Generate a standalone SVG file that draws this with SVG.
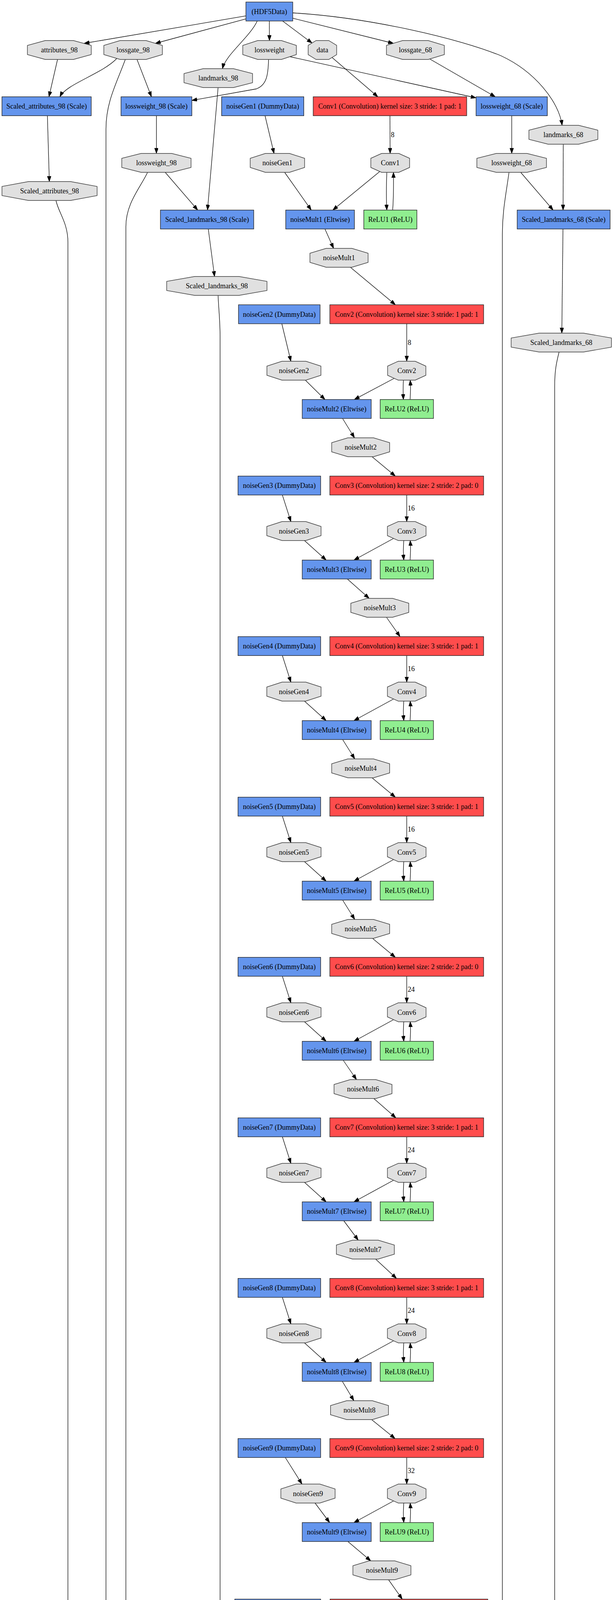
<svg xmlns="http://www.w3.org/2000/svg" width="1573" height="7101" viewBox="0 0 1573 7101">
<style>
rect,polygon,ellipse{stroke:#262626;stroke-width:1.4}
.bg{fill:#fff;stroke:none}
.b{fill:#6495ed}.r{fill:#ff4c4c}.g{fill:#90ee90}.p{fill:#cc33ff}
.o{fill:#e0e0e0;stroke:#3a3a3a}
ellipse{fill:#fff}
text{font-family:"Liberation Serif","Times New Roman",serif;font-size:18px;fill:#000;text-anchor:middle}
text.l{text-anchor:start}
#edges path{fill:none;stroke:#000;stroke-width:1.3;marker-end:url(#ah)}
</style>
<defs>
<marker id="ah" markerUnits="userSpaceOnUse" markerWidth="14" markerHeight="10" refX="13.5" refY="4.75" orient="auto"><path d="M0,0L13.5,4.75L0,9.5z" fill="#000" stroke="#000" stroke-width="1"/></marker>
</defs>
<rect class="bg" x="0" y="0" width="1573" height="7101"/>

<g id="edges">
<path d="M630,40.7L215.6,111"/>
<path d="M630,48.3L398,111"/>
<path d="M659,53.75C640,95 578,140 570,175.75"/>
<path d="M690,53.75L690.3,103.75"/>
<path d="M724,53.75L799.4,110.2"/>
<path d="M750,46.7L1008,111"/>
<path d="M750,33C950,45 1180,100 1284,143C1370,183 1432,260 1440,320.75"/>
<path d="M147.4,152.25L125.4,247.75"/>
<path d="M299,150C260,190 170,215 153.5,247.75"/>
<path d="M351,152.25L388,247.75"/>
<path d="M321,152.25C300,210 271.5,260 271.5,330L271.5,6470C271.5,6510 298,6540 325,6558.25"/>
<path d="M688,152.25C687,195 682,218 657,227.5L491.5,257"/>
<path d="M742.2,145L1219.6,250.5"/>
<path d="M850.5,147L968,247.75"/>
<path d="M1101,151L1268.8,247.75"/>
<path d="M558.7,224.25L531.6,537.75"/>
<path d="M1443,369.25L1442.5,537.75"/>
<path d="M121.4,296.25L126.4,464.75"/>
<path d="M400.7,296.25L400.7,392.75"/>
<path d="M679,296.25L702,392.75"/>
<path d="M999,296.25L999.5,392.75"/>
<path d="M1311,296.25L1311,392.75"/>
<path d="M423.3,441.25L506.5,537.75"/>
<path d="M378,441.25C360,480 322.5,520 322.5,580L322.5,6285C322.5,6318 380,6328 453,6340L623,6370.5"/>
<path d="M729.2,441.25L797.4,537.75"/>
<path d="M973,439L852.6,537.75"/>
<path d="M991,441.25C989.5,480 989.5,510 991,537.75"/>
<path d="M1006,537.75C1008,510 1008.5,480 1008,441.25"/>
<path d="M1334,441.25L1417,537.75"/>
<path d="M1304,441.25C1296,500 1287,540 1287,600L1287,6290C1287,6320 1280,6340 1272,6362.25"/>
<path d="M143.4,513.25C150,545 174,570 174,620L174,6680C174,6720 210,6745 253,6756"/>
<path d="M533.6,586.25L549.6,707.75"/>
<path d="M558.7,756.25C560,790 563.8,820 563.8,860L563.8,5300C563.8,5420 610,5510 680,5670C730,5780 790,5890 860,5978C930,6060 1000,6090 1040,6112C1090,6140 1095.4,6180 1095.4,6240L1095.4,6470C1095.4,6510 1075,6535 1050,6558.25"/>
<path d="M1442.3,586.25L1439.3,852.75"/>
<path d="M1432.3,901.25C1425,930 1421,950 1421,990L1421,6470C1421,6510 1400,6535 1362.4,6558.25"/>
<path d="M832.5,586.25L854.6,635.75"/>
<path d="M897.7,684.25L1013,780.25"/>
<path d="M722,828.75L745.2,924.75"/>
<path d="M1042,828.75L1042,924.75"/>
<path d="M782.3,973.25L832.5,1022.75"/>
<path d="M1010,968.5L907.7,1022.75"/>
<path d="M1033.5,973.25C1032.5,990 1032.5,1005 1033.5,1022.75"/>
<path d="M1050.5,1022.75C1052,1005 1052,990 1051,973.25"/>
<path d="M877.6,1071.25L908.2,1120.75"/>
<path d="M953.2,1169.25L1012.8,1218.75"/>
<path d="M723.4,1267.25L745.2,1335.25"/>
<path d="M1042,1267.25L1042,1335.25"/>
<path d="M780,1383.75L835.6,1433.75"/>
<path d="M1009,1378L906.8,1433.75"/>
<path d="M1034.5,1383.75C1033,1401 1033,1417 1034.5,1433.75"/>
<path d="M1050.5,1433.75C1052,1417 1052,1401 1051,1383.75"/>
<path d="M889.9,1482.25L945.7,1531.75"/>
<path d="M990.1,1580.25L1024.9,1629.75"/>
<path d="M723.4,1678.25L745.2,1746.25"/>
<path d="M1042,1678.25L1042,1746.25"/>
<path d="M780,1794.75L835.6,1844.75"/>
<path d="M1009,1789L906.8,1844.75"/>
<path d="M1034.5,1794.75C1033,1812 1033,1828 1034.5,1844.75"/>
<path d="M1050.5,1844.75C1052,1828 1052,1812 1051,1794.75"/>
<path d="M877.8,1893.25L908.8,1942.75"/>
<path d="M953.2,1991.25L1012.8,2040.75"/>
<path d="M723.4,2089.25L745.2,2157.25"/>
<path d="M1042,2089.25L1042,2157.25"/>
<path d="M780,2205.75L835.6,2255.75"/>
<path d="M1009,2200L906.8,2255.75"/>
<path d="M1034.5,2205.75C1033,2223 1033,2239 1034.5,2255.75"/>
<path d="M1050.5,2255.75C1052,2239 1052,2223 1051,2205.75"/>
<path d="M877.8,2304.25L908.8,2353.75"/>
<path d="M953.2,2401.25L1012.8,2450.75"/>
<path d="M723.4,2499.25L745.2,2567.25"/>
<path d="M1042,2499.25L1042,2567.25"/>
<path d="M780,2615.75L835.6,2665.75"/>
<path d="M1009,2610L906.8,2665.75"/>
<path d="M1034.5,2615.75C1033,2633 1033,2649 1034.5,2665.75"/>
<path d="M1050.5,2665.75C1052,2649 1052,2633 1051,2615.75"/>
<path d="M879.3,2714.25L913.3,2763.75"/>
<path d="M957.7,2812.25L1014.3,2861.75"/>
<path d="M723.4,2910.25L745.2,2978.25"/>
<path d="M1042,2910.25L1042,2978.25"/>
<path d="M780,3026.75L835.6,3076.75"/>
<path d="M1009,3021L906.8,3076.75"/>
<path d="M1034.5,3026.75C1033,3044 1033,3060 1034.5,3076.75"/>
<path d="M1050.5,3076.75C1052,3060 1052,3044 1051,3026.75"/>
<path d="M880.8,3125.25L917.8,3174.75"/>
<path d="M962.2,3223.25L1015.8,3272.75"/>
<path d="M723.4,3321.25L745.2,3389.25"/>
<path d="M1042,3321.25L1042,3389.25"/>
<path d="M780,3437.75L835.6,3487.75"/>
<path d="M1009,3432L906.8,3487.75"/>
<path d="M1034.5,3437.75C1033,3455 1033,3471 1034.5,3487.75"/>
<path d="M1050.5,3487.75C1052,3471 1052,3455 1051,3437.75"/>
<path d="M877,3536.25L906.6,3585.75"/>
<path d="M950.9,3633.25L1012.1,3682.75"/>
<path d="M730.9,3731.25L773.7,3799.25"/>
<path d="M1042,3731.25L1042,3799.25"/>
<path d="M807.1,3847.75L844.5,3897.75"/>
<path d="M1009,3842L906.8,3897.75"/>
<path d="M1034.5,3847.75C1033,3865 1033,3881 1034.5,3897.75"/>
<path d="M1050.5,3897.75C1052,3881 1052,3865 1051,3847.75"/>
<path d="M891.2,3946.25L949.8,3995.75"/>
<path d="M995.5,4044.25L1030.5,4093.75"/>
<path d="M725.1,4142.25L763.4,4210.25"/>
<path d="M1047.6,4142.25L1047.6,4210.25"/>
<path d="M797,4258.75L838.3,4308.75"/>
<path d="M1011.7,4253.2L904.9,4308.75"/>
<path d="M1040,4258.75C1038.5,4276 1038.5,4292 1040,4308.75"/>
<path d="M1056,4308.75C1057.5,4292 1057.5,4276 1056.5,4258.75"/>
<path d="M875.8,4357.25L911.5,4406.75"/>
<path d="M958.3,4455.25L1018.3,4504.75"/>
<path d="M719.3,4553.25L741.2,4621.25"/>
<path d="M1047.6,4553.25L1047.6,4621.25"/>
<path d="M775.9,4669.75L831.4,4719.75"/>
<path d="M1011.7,4664.2L904.9,4719.75"/>
<path d="M1040,4669.75C1038.5,4687 1038.5,4703 1040,4719.75"/>
<path d="M1056,4719.75C1057.5,4703 1057.5,4687 1056.5,4669.75"/>
<path d="M875.8,4768.25L911.5,4817.75"/>
<path d="M958.3,4866.25L1018.3,4915.75"/>
<path d="M719.3,4964.25L741.2,5032.25"/>
<path d="M1047.6,4964.25L1047.6,5032.25"/>
<path d="M775.9,5080.75L831.4,5130.75"/>
<path d="M1011.7,5075.2L904.9,5130.75"/>
<path d="M1040,5080.75C1038.5,5098 1038.5,5114 1040,5130.75"/>
<path d="M1056,5130.75C1057.5,5114 1057.5,5098 1056.5,5080.75"/>
<path d="M875.8,5179.25L911.5,5228.75"/>
<path d="M958.3,5276.25L1018.3,5325.75"/>
<path d="M733,5374.25L793.5,5442.25"/>
<path d="M1047.6,5374.25L1047.6,5442.25"/>
<path d="M825.7,5490.75L847.6,5540.75"/>
<path d="M1011.7,5485.2L904.9,5540.75"/>
<path d="M1040,5490.75C1038.5,5508 1038.5,5524 1040,5540.75"/>
<path d="M1056,5540.75C1057.5,5524 1057.5,5508 1056.5,5490.75"/>
<path d="M868,5589.25L887.7,5638.75"/>
<path d="M914.1,5687.25L948.3,5736.75"/>
<path d="M586.3,5785.25L608.2,5853.25"/>
<path d="M965,5785.25L965,5853.25"/>
<path d="M642.6,5901.75L697.4,5951.75"/>
<path d="M924.5,5894.1L783.3,5951.75"/>
<path d="M957.5,5901.75C956,5919 956,5935 957.5,5951.75"/>
<path d="M973.5,5951.75C975,5935 975,5919 974,5901.75"/>
<path d="M724,6000.25L724,6049.75"/>
<path d="M677.6,6095L544,6147.75"/>
<path d="M725,6098.25L726.3,6147.75"/>
<path d="M772,6094.8L899,6147.75"/>
<path d="M475,6196.25L461.5,6264.25"/>
<path d="M726.5,6196.25L726.5,6264.25"/>
<path d="M962,6196.25L976,6264.25"/>
<path d="M451,6312.75L440,6362.25"/>
<path d="M726.5,6312.75L726.5,6362.25"/>
<path d="M1030,6306.6L1196,6362.25"/>
<path d="M430,6410.75L422,6460.25"/>
<path d="M760,6410.75L831,6460.25"/>
<path d="M1262.5,6410.75L1262.5,6460.25"/>
<path d="M407,6508.75L385,6558.25"/>
<path d="M901,6508.75L977,6558.25"/>
<path d="M1262.5,6508.75L1262.5,6558.25"/>
<path d="M374,6606.75L374,6656.25"/>
<path d="M1013,6606.75L1013,6656.25"/>
<path d="M1241.5,6606.75L1197,6656.25"/>
<path d="M374,6704.75L374,6754.25"/>
<path d="M1013,6704.75L1013,6754.25"/>
<path d="M1144.7,6702L1052.5,6754.25"/>
<path d="M440.8,6802.75L597,6855.5"/>
<path d="M979.5,6802.75L909,6852.25"/>
<path d="M682.6,6900.75L752,6950.25"/>
<path d="M852.5,6900.75L807,6950.25"/>
<path d="M785,6998.75L785,7049"/>
<text class="l" x="1001.5" y="351">8</text>
<text class="l" x="1044.5" y="883">8</text>
<text class="l" x="1044.5" y="1307">16</text>
<text class="l" x="1044.5" y="1718">16</text>
<text class="l" x="1044.5" y="2129">16</text>
<text class="l" x="1044.5" y="2539">24</text>
<text class="l" x="1044.5" y="2950">24</text>
<text class="l" x="1044.5" y="3361">24</text>
<text class="l" x="1044.5" y="3771">32</text>
<text class="l" x="1050" y="4182">32</text>
<text class="l" x="1050" y="4593">32</text>
<text class="l" x="1050" y="5004">64</text>
<text class="l" x="1050" y="5414">128</text>
<text class="l" x="967.5" y="5825">512</text>
<text class="l" x="471" y="6235">5</text>
<text class="l" x="729" y="6235">196</text>
<text class="l" x="973" y="6235">136</text>
</g>

<g id="HDF5Data"><rect class="b" x="630" y="5.25" width="120" height="48.5"/><text x="690" y="35.5">(HDF5Data)</text></g>
<g id="attributes_98"><polygon class="o" points="116,103.75 188,103.75 233.75,116.25 233.75,139.75 188,152.25 116,152.25 70.25,139.75 70.25,116.25"/><text x="152" y="134">attributes_98</text></g>
<g id="lossgate_98"><polygon class="o" points="308,103.75 374,103.75 416,116.25 416,139.75 374,152.25 308,152.25 266,139.75 266,116.25"/><text x="341" y="134">lossgate_98</text></g>
<g id="lossweight"><polygon class="o" points="660.4,103.75 720.8,103.75 759.3,116.25 759.3,139.75 720.8,152.25 660.4,152.25 621.9,139.75 621.9,116.25"/><text x="690.6" y="134">lossweight</text></g>
<g id="data"><polygon class="o" points="809.9,103.75 842.1,103.75 862.5,116.25 862.5,139.75 842.1,152.25 809.9,152.25 789.5,139.75 789.5,116.25"/><text x="826" y="134">data</text></g>
<g id="lossgate_68"><polygon class="o" points="1031.6,103.75 1096.8,103.75 1138.4,116.25 1138.4,139.75 1096.8,152.25 1031.6,152.25 990,139.75 990,116.25"/><text x="1064.2" y="134">lossgate_68</text></g>
<g id="landmarks_98"><polygon class="o" points="520.6,175.75 597.8,175.75 647,188.25 647,211.75 597.8,224.25 520.6,224.25 471.4,211.75 471.4,188.25"/><text x="559.2" y="206">landmarks_98</text></g>
<g id="Scaled_attributes_98_Scale"><rect class="b" x="5" y="247.75" width="228.7" height="48.5"/><text x="119.4" y="278">Scaled_attributes_98 (Scale)</text></g>
<g id="lossweight_98_Scale"><rect class="b" x="310" y="247.75" width="181.5" height="48.5"/><text x="400.7" y="278">lossweight_98 (Scale)</text></g>
<g id="noiseGen1_DummyData"><rect class="b" x="567.7" y="247.75" width="210.6" height="48.5"/><text x="673" y="278">noiseGen1 (DummyData)</text></g>
<g id="Conv1_Convolution"><rect class="r" x="802.4" y="247.75" width="393.2" height="48.5"/><text x="999" y="278">Conv1 (Convolution) kernel size: 3 stride: 1 pad: 1</text></g>
<g id="lossweight_68_Scale"><rect class="b" x="1219.6" y="247.75" width="182.6" height="48.5"/><text x="1310.9" y="278">lossweight_68 (Scale)</text></g>
<g id="landmarks_68"><polygon class="o" points="1404.5,320.75 1482.1,320.75 1531.6,333.25 1531.6,356.75 1482.1,369.25 1404.5,369.25 1355,356.75 1355,333.25"/><text x="1443.3" y="351">landmarks_68</text></g>
<g id="lossweight_98"><polygon class="o" points="361.7,392.75 439.7,392.75 489.45,405.25 489.45,428.75 439.7,441.25 361.7,441.25 311.95,428.75 311.95,405.25"/><text x="400.7" y="423">lossweight_98</text></g>
<g id="noiseGen1"><polygon class="o" points="680,392.75 741.4,392.75 780.4,405.25 780.4,428.75 741.4,441.25 680,441.25 641,428.75 641,405.25"/><text x="710.7" y="423">noiseGen1</text></g>
<g id="Conv1"><polygon class="o" points="977.8,392.75 1021.6,392.75 1049.4,405.25 1049.4,428.75 1021.6,441.25 977.8,441.25 950,428.75 950,405.25"/><text x="999.7" y="423">Conv1</text></g>
<g id="lossweight_68"><polygon class="o" points="1271.6,392.75 1350,392.75 1400,405.25 1400,428.75 1350,441.25 1271.6,441.25 1221.6,428.75 1221.6,405.25"/><text x="1310.8" y="423">lossweight_68</text></g>
<g id="Scaled_attributes_98"><polygon class="o" points="73.3,464.75 180.5,464.75 248.75,477.25 248.75,500.75 180.5,513.25 73.3,513.25 5.05,500.75 5.05,477.25"/><text x="126.9" y="495">Scaled_attributes_98</text></g>
<g id="Scaled_landmarks_98_Scale"><rect class="b" x="411" y="537.75" width="239" height="48.5"/><text x="530.5" y="568">Scaled_landmarks_98 (Scale)</text></g>
<g id="noiseMult1_Eltwise"><rect class="b" x="732" y="537.75" width="176" height="48.5"/><text x="820" y="568">noiseMult1 (Eltwise)</text></g>
<g id="ReLU1_ReLU"><rect class="g" x="932" y="537.75" width="136" height="48.5"/><text x="1000" y="568">ReLU1 (ReLU)</text></g>
<g id="Scaled_landmarks_68_Scale"><rect class="b" x="1325" y="537.75" width="238" height="48.5"/><text x="1444" y="568">Scaled_landmarks_68 (Scale)</text></g>
<g id="noiseMult1"><polygon class="o" points="835.7,635.75 901.3,635.75 943,648.25 943,671.75 901.3,684.25 835.7,684.25 794,671.75 794,648.25"/><text x="868.5" y="666">noiseMult1</text></g>
<g id="Scaled_landmarks_98"><polygon class="o" points="499,707.75 612,707.75 684,720.25 684,743.75 612,756.25 499,756.25 427,743.75 427,720.25"/><text x="555.5" y="738">Scaled_landmarks_98</text></g>
<g id="noiseGen2_DummyData"><rect class="b" x="611" y="780.25" width="209" height="48.5"/><text x="715.5" y="810.5">noiseGen2 (DummyData)</text></g>
<g id="Conv2_Convolution"><rect class="r" x="845" y="780.25" width="394" height="48.5"/><text x="1042" y="810.5">Conv2 (Convolution) kernel size: 3 stride: 1 pad: 1</text></g>
<g id="Scaled_landmarks_68"><polygon class="o" points="1381.5,852.75 1494.5,852.75 1566.5,865.25 1566.5,888.75 1494.5,901.25 1381.5,901.25 1309.5,888.75 1309.5,865.25"/><text x="1438" y="883">Scaled_landmarks_68</text></g>
<g id="noiseGen2"><polygon class="o" points="722.5,924.75 783.5,924.75 822.25,937.25 822.25,960.75 783.5,973.25 722.5,973.25 683.75,960.75 683.75,937.25"/><text x="753" y="955">noiseGen2</text></g>
<g id="Conv2"><polygon class="o" points="1020.4,924.75 1063.6,924.75 1091,937.25 1091,960.75 1063.6,973.25 1020.4,973.25 993,960.75 993,937.25"/><text x="1042" y="955">Conv2</text></g>
<g id="noiseMult2_Eltwise"><rect class="b" x="774.3" y="1022.75" width="176.7" height="48.5"/><text x="862.6" y="1053">noiseMult2 (Eltwise)</text></g>
<g id="ReLU2_ReLU"><rect class="g" x="974" y="1022.75" width="136.5" height="48.5"/><text x="1042.25" y="1053">ReLU2 (ReLU)</text></g>
<g id="noiseMult2"><polygon class="o" points="891.3,1120.75 956.7,1120.75 998.3,1133.25 998.3,1156.75 956.7,1169.25 891.3,1169.25 849.7,1156.75 849.7,1133.25"/><text x="924" y="1151">noiseMult2</text></g>

<g id="noiseGen3_DummyData"><rect class="b" x="609.7" y="1218.75" width="211.8" height="48.5"/><text x="715.6" y="1249">noiseGen3 (DummyData)</text></g>
<g id="Conv3_Convolution"><rect class="r" x="845" y="1218.75" width="394" height="48.5"/><text x="1042" y="1249">Conv3 (Convolution) kernel size: 2 stride: 2 pad: 0</text></g>
<g id="noiseGen3"><polygon class="o" points="722.4,1335.25 783.6,1335.25 822.5,1347.75 822.5,1371.25 783.6,1383.75 722.4,1383.75 683.5,1371.25 683.5,1347.75"/><text x="753" y="1365.5">noiseGen3</text></g>
<g id="Conv3"><polygon class="o" points="1020.2,1335.25 1063.8,1335.25 1091.5,1347.75 1091.5,1371.25 1063.8,1383.75 1020.2,1383.75 992.5,1371.25 992.5,1347.75"/><text x="1042" y="1365.5">Conv3</text></g>
<g id="noiseMult3_Eltwise"><rect class="b" x="774.3" y="1433.75" width="176.7" height="48.5"/><text x="862.6" y="1464">noiseMult3 (Eltwise)</text></g>
<g id="ReLU3_ReLU"><rect class="g" x="974" y="1433.75" width="136.5" height="48.5"/><text x="1042.25" y="1464">ReLU3 (ReLU)</text></g>
<g id="noiseMult3"><polygon class="o" points="940.3,1531.75 1005.7,1531.75 1047.3,1544.25 1047.3,1567.75 1005.7,1580.25 940.3,1580.25 898.7,1567.75 898.7,1544.25"/><text x="973" y="1562">noiseMult3</text></g>

<g id="noiseGen4_DummyData"><rect class="b" x="609.7" y="1629.75" width="211.8" height="48.5"/><text x="715.6" y="1660">noiseGen4 (DummyData)</text></g>
<g id="Conv4_Convolution"><rect class="r" x="845" y="1629.75" width="394" height="48.5"/><text x="1042" y="1660">Conv4 (Convolution) kernel size: 3 stride: 1 pad: 1</text></g>
<g id="noiseGen4"><polygon class="o" points="722.4,1746.25 783.6,1746.25 822.5,1758.75 822.5,1782.25 783.6,1794.75 722.4,1794.75 683.5,1782.25 683.5,1758.75"/><text x="753" y="1776.5">noiseGen4</text></g>
<g id="Conv4"><polygon class="o" points="1020.2,1746.25 1063.8,1746.25 1091.5,1758.75 1091.5,1782.25 1063.8,1794.75 1020.2,1794.75 992.5,1782.25 992.5,1758.75"/><text x="1042" y="1776.5">Conv4</text></g>
<g id="noiseMult4_Eltwise"><rect class="b" x="774.3" y="1844.75" width="176.7" height="48.5"/><text x="862.6" y="1875">noiseMult4 (Eltwise)</text></g>
<g id="ReLU4_ReLU"><rect class="g" x="974" y="1844.75" width="136.5" height="48.5"/><text x="1042.25" y="1875">ReLU4 (ReLU)</text></g>
<g id="noiseMult4"><polygon class="o" points="891.3,1942.75 956.7,1942.75 998.3,1955.25 998.3,1978.75 956.7,1991.25 891.3,1991.25 849.7,1978.75 849.7,1955.25"/><text x="924" y="1973">noiseMult4</text></g>

<g id="noiseGen5_DummyData"><rect class="b" x="609.7" y="2040.75" width="211.8" height="48.5"/><text x="715.6" y="2071">noiseGen5 (DummyData)</text></g>
<g id="Conv5_Convolution"><rect class="r" x="845" y="2040.75" width="394" height="48.5"/><text x="1042" y="2071">Conv5 (Convolution) kernel size: 3 stride: 1 pad: 1</text></g>
<g id="noiseGen5"><polygon class="o" points="722.4,2157.25 783.6,2157.25 822.5,2169.75 822.5,2193.25 783.6,2205.75 722.4,2205.75 683.5,2193.25 683.5,2169.75"/><text x="753" y="2187.5">noiseGen5</text></g>
<g id="Conv5"><polygon class="o" points="1020.2,2157.25 1063.8,2157.25 1091.5,2169.75 1091.5,2193.25 1063.8,2205.75 1020.2,2205.75 992.5,2193.25 992.5,2169.75"/><text x="1042" y="2187.5">Conv5</text></g>
<g id="noiseMult5_Eltwise"><rect class="b" x="774.3" y="2255.75" width="176.7" height="48.5"/><text x="862.6" y="2286">noiseMult5 (Eltwise)</text></g>
<g id="ReLU5_ReLU"><rect class="g" x="974" y="2255.75" width="136.5" height="48.5"/><text x="1042.25" y="2286">ReLU5 (ReLU)</text></g>
<g id="noiseMult5"><polygon class="o" points="891.3,2353.75 956.7,2353.75 998.3,2366.25 998.3,2389.75 956.7,2402.25 891.3,2402.25 849.7,2389.75 849.7,2366.25"/><text x="924" y="2384">noiseMult5</text></g>

<g id="noiseGen6_DummyData"><rect class="b" x="609.7" y="2450.75" width="211.8" height="48.5"/><text x="715.6" y="2481">noiseGen6 (DummyData)</text></g>
<g id="Conv6_Convolution"><rect class="r" x="845" y="2450.75" width="394" height="48.5"/><text x="1042" y="2481">Conv6 (Convolution) kernel size: 2 stride: 2 pad: 0</text></g>
<g id="noiseGen6"><polygon class="o" points="722.4,2567.25 783.6,2567.25 822.5,2579.75 822.5,2603.25 783.6,2615.75 722.4,2615.75 683.5,2603.25 683.5,2579.75"/><text x="753" y="2597.5">noiseGen6</text></g>
<g id="Conv6"><polygon class="o" points="1020.2,2567.25 1063.8,2567.25 1091.5,2579.75 1091.5,2603.25 1063.8,2615.75 1020.2,2615.75 992.5,2603.25 992.5,2579.75"/><text x="1042" y="2597.5">Conv6</text></g>
<g id="noiseMult6_Eltwise"><rect class="b" x="774.3" y="2665.75" width="176.7" height="48.5"/><text x="862.6" y="2696">noiseMult6 (Eltwise)</text></g>
<g id="ReLU6_ReLU"><rect class="g" x="974" y="2665.75" width="136.5" height="48.5"/><text x="1042.25" y="2696">ReLU6 (ReLU)</text></g>
<g id="noiseMult6"><polygon class="o" points="897.3,2763.75 962.7,2763.75 1004.3,2776.25 1004.3,2799.75 962.7,2812.25 897.3,2812.25 855.7,2799.75 855.7,2776.25"/><text x="930" y="2794">noiseMult6</text></g>

<g id="noiseGen7_DummyData"><rect class="b" x="609.7" y="2861.75" width="211.8" height="48.5"/><text x="715.6" y="2892">noiseGen7 (DummyData)</text></g>
<g id="Conv7_Convolution"><rect class="r" x="845" y="2861.75" width="394" height="48.5"/><text x="1042" y="2892">Conv7 (Convolution) kernel size: 3 stride: 1 pad: 1</text></g>
<g id="noiseGen7"><polygon class="o" points="722.4,2978.25 783.6,2978.25 822.5,2990.75 822.5,3014.25 783.6,3026.75 722.4,3026.75 683.5,3014.25 683.5,2990.75"/><text x="753" y="3008.5">noiseGen7</text></g>
<g id="Conv7"><polygon class="o" points="1020.2,2978.25 1063.8,2978.25 1091.5,2990.75 1091.5,3014.25 1063.8,3026.75 1020.2,3026.75 992.5,3014.25 992.5,2990.75"/><text x="1042" y="3008.5">Conv7</text></g>
<g id="noiseMult7_Eltwise"><rect class="b" x="774.3" y="3076.75" width="176.7" height="48.5"/><text x="862.6" y="3107">noiseMult7 (Eltwise)</text></g>
<g id="ReLU7_ReLU"><rect class="g" x="974" y="3076.75" width="136.5" height="48.5"/><text x="1042.25" y="3107">ReLU7 (ReLU)</text></g>
<g id="noiseMult7"><polygon class="o" points="903.3,3174.75 968.7,3174.75 1010.3,3187.25 1010.3,3210.75 968.7,3223.25 903.3,3223.25 861.7,3210.75 861.7,3187.25"/><text x="936" y="3205">noiseMult7</text></g>

<g id="noiseGen8_DummyData"><rect class="b" x="609.7" y="3272.75" width="211.8" height="48.5"/><text x="715.6" y="3303">noiseGen8 (DummyData)</text></g>
<g id="Conv8_Convolution"><rect class="r" x="845" y="3272.75" width="394" height="48.5"/><text x="1042" y="3303">Conv8 (Convolution) kernel size: 3 stride: 1 pad: 1</text></g>
<g id="noiseGen8"><polygon class="o" points="722.4,3389.25 783.6,3389.25 822.5,3401.75 822.5,3425.25 783.6,3437.75 722.4,3437.75 683.5,3425.25 683.5,3401.75"/><text x="753" y="3419.5">noiseGen8</text></g>
<g id="Conv8"><polygon class="o" points="1020.2,3389.25 1063.8,3389.25 1091.5,3401.75 1091.5,3425.25 1063.8,3437.75 1020.2,3437.75 992.5,3425.25 992.5,3401.75"/><text x="1042" y="3419.5">Conv8</text></g>
<g id="noiseMult8_Eltwise"><rect class="b" x="774.3" y="3487.75" width="176.7" height="48.5"/><text x="862.6" y="3518">noiseMult8 (Eltwise)</text></g>
<g id="ReLU8_ReLU"><rect class="g" x="974" y="3487.75" width="136.5" height="48.5"/><text x="1042.25" y="3518">ReLU8 (ReLU)</text></g>
<g id="noiseMult8"><polygon class="o" points="888.3,3585.75 953.7,3585.75 995.3,3598.25 995.3,3621.75 953.7,3634.25 888.3,3634.25 846.7,3621.75 846.7,3598.25"/><text x="921" y="3616">noiseMult8</text></g>

<g id="noiseGen9_DummyData"><rect class="b" x="609.7" y="3682.75" width="211.8" height="48.5"/><text x="715.6" y="3713">noiseGen9 (DummyData)</text></g>
<g id="Conv9_Convolution"><rect class="r" x="845" y="3682.75" width="394" height="48.5"/><text x="1042" y="3713">Conv9 (Convolution) kernel size: 2 stride: 2 pad: 0</text></g>
<g id="noiseGen9"><polygon class="o" points="758.4,3799.25 819.6,3799.25 858.5,3811.75 858.5,3835.25 819.6,3847.75 758.4,3847.75 719.5,3835.25 719.5,3811.75"/><text x="789" y="3829.5">noiseGen9</text></g>
<g id="Conv9"><polygon class="o" points="1020.2,3799.25 1063.8,3799.25 1091.5,3811.75 1091.5,3835.25 1063.8,3847.75 1020.2,3847.75 992.5,3835.25 992.5,3811.75"/><text x="1042" y="3829.5">Conv9</text></g>
<g id="noiseMult9_Eltwise"><rect class="b" x="774.3" y="3897.75" width="176.7" height="48.5"/><text x="862.6" y="3928">noiseMult9 (Eltwise)</text></g>
<g id="ReLU9_ReLU"><rect class="g" x="974" y="3897.75" width="136.5" height="48.5"/><text x="1042.25" y="3928">ReLU9 (ReLU)</text></g>
<g id="noiseMult9"><polygon class="o" points="945.7,3995.75 1011.1,3995.75 1052.7,4008.25 1052.7,4031.75 1011.1,4044.25 945.7,4044.25 904.1,4031.75 904.1,4008.25"/><text x="978.4" y="4026">noiseMult9</text></g>

<g id="noiseGen10_DummyData"><rect class="b" x="601.5" y="4093.75" width="220" height="48.5"/><text x="711.5" y="4124">noiseGen10 (DummyData)</text></g>
<g id="Conv10_Convolution"><rect class="r" x="845.6" y="4093.75" width="404" height="48.5"/><text x="1047.6" y="4124">Conv10 (Convolution) kernel size: 3 stride: 1 pad: 1</text></g>
<g id="noiseGen10"><polygon class="o" points="743.6,4210.25 810.4,4210.25 853,4222.75 853,4246.25 810.4,4258.75 743.6,4258.75 701,4246.25 701,4222.75"/><text x="777" y="4240.5">noiseGen10</text></g>
<g id="Conv10"><polygon class="o" points="1023,4210.25 1072.2,4210.25 1103.4,4222.75 1103.4,4246.25 1072.2,4258.75 1023,4258.75 991.8,4246.25 991.8,4222.75"/><text x="1047.6" y="4240.5">Conv10</text></g>
<g id="noiseMult10_Eltwise"><rect class="b" x="765" y="4308.75" width="186.6" height="48.5"/><text x="858.3" y="4339">noiseMult10 (Eltwise)</text></g>
<g id="ReLU10_ReLU"><rect class="g" x="974.6" y="4308.75" width="146" height="48.5"/><text x="1047.6" y="4339">ReLU10 (ReLU)</text></g>
<g id="noiseMult10"><polygon class="o" points="893.4,4406.75 964.6,4406.75 1010,4419.25 1010,4442.75 964.6,4455.25 893.4,4455.25 848,4442.75 848,4419.25"/><text x="929" y="4437">noiseMult10</text></g>

<g id="noiseGen11_DummyData"><rect class="b" x="601.5" y="4504.75" width="220" height="48.5"/><text x="711.5" y="4535">noiseGen11 (DummyData)</text></g>
<g id="Conv11_Convolution"><rect class="r" x="845.6" y="4504.75" width="404" height="48.5"/><text x="1047.6" y="4535">Conv11 (Convolution) kernel size: 3 stride: 1 pad: 1</text></g>
<g id="noiseGen11"><polygon class="o" points="715.6,4621.25 782.4,4621.25 825,4633.75 825,4657.25 782.4,4669.75 715.6,4669.75 673,4657.25 673,4633.75"/><text x="749" y="4651.5">noiseGen11</text></g>
<g id="Conv11"><polygon class="o" points="1023,4621.25 1072.2,4621.25 1103.4,4633.75 1103.4,4657.25 1072.2,4669.75 1023,4669.75 991.8,4657.25 991.8,4633.75"/><text x="1047.6" y="4651.5">Conv11</text></g>
<g id="noiseMult11_Eltwise"><rect class="b" x="765" y="4719.75" width="186.6" height="48.5"/><text x="858.3" y="4750">noiseMult11 (Eltwise)</text></g>
<g id="ReLU11_ReLU"><rect class="g" x="974.6" y="4719.75" width="146" height="48.5"/><text x="1047.6" y="4750">ReLU11 (ReLU)</text></g>
<g id="noiseMult11"><polygon class="o" points="893.4,4817.75 964.6,4817.75 1010,4830.25 1010,4853.75 964.6,4866.25 893.4,4866.25 848,4853.75 848,4830.25"/><text x="929" y="4848">noiseMult11</text></g>

<g id="noiseGen12_DummyData"><rect class="b" x="601.5" y="4915.75" width="220" height="48.5"/><text x="711.5" y="4946">noiseGen12 (DummyData)</text></g>
<g id="Conv12_Convolution"><rect class="r" x="845.6" y="4915.75" width="404" height="48.5"/><text x="1047.6" y="4946">Conv12 (Convolution) kernel size: 2 stride: 2 pad: 0</text></g>
<g id="noiseGen12"><polygon class="o" points="715.6,5032.25 782.4,5032.25 825,5044.75 825,5068.25 782.4,5080.75 715.6,5080.75 673,5068.25 673,5044.75"/><text x="749" y="5062.5">noiseGen12</text></g>
<g id="Conv12"><polygon class="o" points="1023,5032.25 1072.2,5032.25 1103.4,5044.75 1103.4,5068.25 1072.2,5080.75 1023,5080.75 991.8,5068.25 991.8,5044.75"/><text x="1047.6" y="5062.5">Conv12</text></g>
<g id="noiseMult12_Eltwise"><rect class="b" x="765" y="5130.75" width="186.6" height="48.5"/><text x="858.3" y="5161">noiseMult12 (Eltwise)</text></g>
<g id="ReLU12_ReLU"><rect class="g" x="974.6" y="5130.75" width="146" height="48.5"/><text x="1047.6" y="5161">ReLU12 (ReLU)</text></g>
<g id="noiseMult12"><polygon class="o" points="893.4,5228.75 964.6,5228.75 1010,5241.25 1010,5264.75 964.6,5277.25 893.4,5277.25 848,5264.75 848,5241.25"/><text x="929" y="5259">noiseMult12</text></g>

<g id="noiseGen13_DummyData"><rect class="b" x="601.5" y="5325.75" width="220" height="48.5"/><text x="711.5" y="5356">noiseGen13 (DummyData)</text></g>
<g id="Conv13_Convolution"><rect class="r" x="845.6" y="5325.75" width="404" height="48.5"/><text x="1047.6" y="5356">Conv13 (Convolution) kernel size: 3 stride: 1 pad: 0</text></g>
<g id="noiseGen13"><polygon class="o" points="781.6,5442.25 848.4,5442.25 891,5454.75 891,5478.25 848.4,5490.75 781.6,5490.75 739,5478.25 739,5454.75"/><text x="815" y="5472.5">noiseGen13</text></g>
<g id="Conv13"><polygon class="o" points="1023,5442.25 1072.2,5442.25 1103.4,5454.75 1103.4,5478.25 1072.2,5490.75 1023,5490.75 991.8,5478.25 991.8,5454.75"/><text x="1047.6" y="5472.5">Conv13</text></g>
<g id="noiseMult13_Eltwise"><rect class="b" x="765" y="5540.75" width="186.6" height="48.5"/><text x="858.3" y="5571">noiseMult13 (Eltwise)</text></g>
<g id="ReLU13_ReLU"><rect class="g" x="974.6" y="5540.75" width="146" height="48.5"/><text x="1047.6" y="5571">ReLU13 (ReLU)</text></g>
<g id="noiseMult13"><polygon class="o" points="861.8,5638.75 933,5638.75 978.4,5651.25 978.4,5674.75 933,5687.25 861.8,5687.25 816.4,5674.75 816.4,5651.25"/><text x="897.4" y="5669">noiseMult13</text></g>

<g id="noiseGen14_DummyData"><rect class="b" x="468" y="5736.75" width="221" height="48.5"/><text x="578.5" y="5767">noiseGen14 (DummyData)</text></g>
<g id="Conv14_Convolution"><rect class="r" x="763.2" y="5736.75" width="403.5" height="48.5"/><text x="965" y="5767">Conv14 (Convolution) kernel size: 3 stride: 1 pad: 0</text></g>
<g id="noiseGen14"><polygon class="o" points="582.6,5853.25 649.4,5853.25 692,5865.75 692,5889.25 649.4,5901.75 582.6,5901.75 540,5889.25 540,5865.75"/><text x="616" y="5883.5">noiseGen14</text></g>
<g id="Conv14"><polygon class="o" points="940.6,5853.25 989.4,5853.25 1020.5,5865.75 1020.5,5889.25 989.4,5901.75 940.6,5901.75 909.5,5889.25 909.5,5865.75"/><text x="965" y="5883.5">Conv14</text></g>
<g id="noiseMult14_Eltwise"><rect class="b" x="631" y="5951.75" width="186" height="48.5"/><text x="724" y="5982">noiseMult14 (Eltwise)</text></g>
<g id="ReLU14_ReLU"><rect class="g" x="892" y="5951.75" width="146" height="48.5"/><text x="965" y="5982">ReLU14 (ReLU)</text></g>
<g id="noiseMult14"><polygon class="o" points="688.4,6049.75 759.6,6049.75 805,6062.25 805,6085.75 759.6,6098.25 688.4,6098.25 643,6085.75 643,6062.25"/><text x="724" y="6080">noiseMult14</text></g>

<g id="Dense_attr_98_InnerProduct"><rect class="p" x="361" y="6147.75" width="239" height="48.5"/><text x="480.5" y="6178">Dense_attr_98 (InnerProduct)</text></g>
<g id="Dense_98_InnerProduct"><rect class="p" x="624" y="6147.75" width="205" height="48.5"/><text x="726.5" y="6178">Dense_98 (InnerProduct)</text></g>
<g id="Dense_68_InnerProduct"><rect class="p" x="853" y="6147.75" width="205.6" height="48.5"/><text x="955.8" y="6178">Dense_68 (InnerProduct)</text></g>
<g id="Dense_attr_98"><polygon class="o" points="417.8,6264.25 496.2,6264.25 546,6276.75 546,6300.25 496.2,6312.75 417.8,6312.75 368,6300.25 368,6276.75"/><text x="457" y="6294.5">Dense_attr_98</text></g>
<g id="Dense_98"><polygon class="o" points="697.2,6264.25 755.8,6264.25 793,6276.75 793,6300.25 755.8,6312.75 697.2,6312.75 660,6300.25 660,6276.75"/><text x="726.5" y="6294.5">Dense_98</text></g>
<g id="Dense_68"><polygon class="o" points="953.2,6264.25 1011.8,6264.25 1049,6276.75 1049,6300.25 1011.8,6312.75 953.2,6312.75 916,6300.25 916,6276.75"/><text x="982.5" y="6294.5">Dense_68</text></g>
<g id="Sigmoid_attr_98_Sigmoid"><rect class="b" x="323" y="6362.25" width="223" height="48.5"/><text x="434.5" y="6392.5">Sigmoid_attr_98 (Sigmoid)</text></g>
<g id="Scaled_Dense_98_Scale"><rect class="b" x="624" y="6362.25" width="206" height="48.5"/><text x="727" y="6392.5">Scaled_Dense_98 (Scale)</text></g>
<g id="Scaled_Dense_68_Scale"><rect class="b" x="1159" y="6362.25" width="207" height="48.5"/><text x="1262.5" y="6392.5">Scaled_Dense_68 (Scale)</text></g>
<g id="Sigmoid_attr_98"><polygon class="o" points="372.6,6460.25 461.4,6460.25 518,6472.75 518,6496.25 461.4,6508.75 372.6,6508.75 316,6496.25 316,6472.75"/><text x="417" y="6490.5">Sigmoid_attr_98</text></g>
<g id="Scaled_Dense_98"><polygon class="o" points="818.4,6460.25 911.6,6460.25 971,6472.75 971,6496.25 911.6,6508.75 818.4,6508.75 759,6496.25 759,6472.75"/><text x="865" y="6490.5">Scaled_Dense_98</text></g>
<g id="Scaled_Dense_68"><polygon class="o" points="1215.4,6460.25 1308.6,6460.25 1368,6472.75 1368,6496.25 1308.6,6508.75 1215.4,6508.75 1156,6496.25 1156,6472.75"/><text x="1262" y="6490.5">Scaled_Dense_68</text></g>
<g id="Scaled_Sigmoid_attr_98_Scale"><rect class="b" x="245" y="6558.25" width="258" height="48.5"/><text x="374" y="6588.5">Scaled_Sigmoid_attr_98 (Scale)</text></g>
<g id="loss_98_EuclideanLoss"><rect class="b" x="913" y="6558.25" width="200" height="48.5"/><text x="1013" y="6588.5">loss_98 (EuclideanLoss)</text></g>
<g id="loss_68_EuclideanLoss"><rect class="b" x="1162" y="6558.25" width="200" height="48.5"/><text x="1262" y="6588.5">loss_68 (EuclideanLoss)</text></g>
<g id="Scaled_Sigmoid_attr_98"><polygon class="o" points="311.5,6656.25 436.5,6656.25 516,6668.75 516,6692.25 436.5,6704.75 311.5,6704.75 232,6692.25 232,6668.75"/><text x="374" y="6686.5">Scaled_Sigmoid_attr_98</text></g>
<g id="loss_98"><polygon class="o" points="989.5,6656.25 1037.5,6656.25 1068,6668.75 1068,6692.25 1037.5,6704.75 989.5,6704.75 959,6692.25 959,6668.75"/><text x="1013.5" y="6686.5">loss_98</text></g>
<g id="loss_68"><polygon class="o" points="1151.3,6656.25 1198.7,6656.25 1228.75,6668.75 1228.75,6692.25 1198.7,6704.75 1151.3,6704.75 1121.25,6692.25 1121.25,6668.75"/><text x="1175" y="6686.5">loss_68</text></g>
<g id="attribute_loss_EuclideanLoss"><rect class="b" x="253" y="6754.25" width="243" height="48.5"/><text x="374.5" y="6784.5">attribute_loss (EuclideanLoss)</text></g>
<g id="landmark_loss_Eltwise"><rect class="b" x="913.5" y="6754.25" width="199.5" height="48.5"/><text x="1013.25" y="6784.5">landmark_loss (Eltwise)</text></g>
<g id="attribute_loss"><polygon class="o" points="612,6852.25 686,6852.25 733,6864.75 733,6888.25 686,6900.75 612,6900.75 565,6888.25 565,6864.75"/><text x="649" y="6882.5">attribute_loss</text></g>
<g id="landmark_loss"><polygon class="o" points="834.4,6852.25 913.6,6852.25 964,6864.75 964,6888.25 913.6,6900.75 834.4,6900.75 784,6888.25 784,6864.75"/><text x="874" y="6882.5">landmark_loss</text></g>
<g id="loss_Python"><rect class="b" x="725" y="6950.25" width="120" height="48.5"/><text x="785" y="6980.5">loss (Python)</text></g>
<g id="loss"><ellipse cx="785" cy="7072.5" rx="36" ry="23.5"/><text x="785" y="7078.5">loss</text></g>
</svg>
